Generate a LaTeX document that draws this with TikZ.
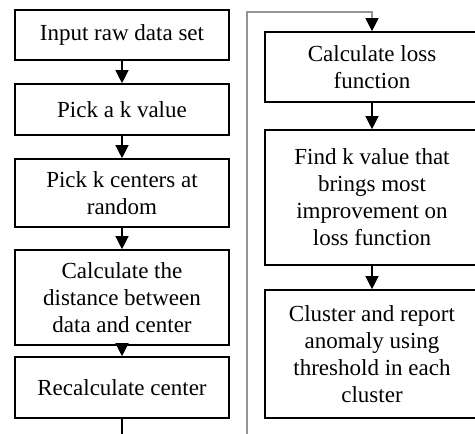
\documentclass[tikz,border=0pt]{standalone}
\usepackage{fontspec}
\setmainfont{Liberation Serif}
\usetikzlibrary{arrows.meta}
\begin{document}
\begin{tikzpicture}[x=1pt,y=1pt,
  box/.style={draw=black,line width=1.6pt,minimum width=214pt,inner sep=2pt,align=center,
    font=\fontsize{23}{27}\selectfont},
  conn/.style={line width=1.2pt,-{Triangle[width=13pt,length=13pt]}},
  loopline/.style={draw=black!42,line width=1.8pt}]
\useasboundingbox (0,0) rectangle (475,-434);
\clip (0,0) rectangle (475,-434);
% left column
\node[box,minimum height=50pt] (b1) at (122,-35) {Input raw data set};
\node[box,minimum height=51pt] (b2) at (122,-109.5) {Pick a k value};
\node[box,minimum height=68pt] (b3) at (122,-193) {Pick k centers at\\random};
\node[box,minimum height=95pt] (b4) at (122,-297.5) {Calculate the\\distance between\\data and center};
\node[box,minimum height=61pt] (b5) at (122,-387.5) {Recalculate center};
% right column
\node[box,minimum height=70pt] (r1) at (372,-67) {Calculate loss\\function};
\node[box,minimum height=135pt] (r2) at (372,-197.5) {Find k value that\\brings most\\improvement on\\loss function};
\node[box,minimum height=128pt] (r3) at (372,-354) {Cluster and report\\anomaly using\\threshold in each\\cluster};
% connectors
\draw[conn] (b1.south) -- (b2.north);
\draw[conn] (b2.south) -- (b3.north);
\draw[conn] (b3.south) -- (b4.north);
\draw[conn] (b4.south) -- (b5.north);
\draw[conn] (r1.south) -- (r2.north);
\draw[conn] (r2.south) -- (r3.north);
\coordinate (lb) at (122,-436);
\draw[line width=1.2pt] (b5.south) -- (lb);
\coordinate (gb) at (247,-436);
\coordinate (gt) at (247,-12);
\coordinate (gr) at (372,-12);
\coordinate (ga) at (372,-18);
\draw[loopline] (gb) -- (gt) -- (gr) -- (ga);
\draw[conn] (ga) -- (r1.north);
\end{tikzpicture}
\end{document}
